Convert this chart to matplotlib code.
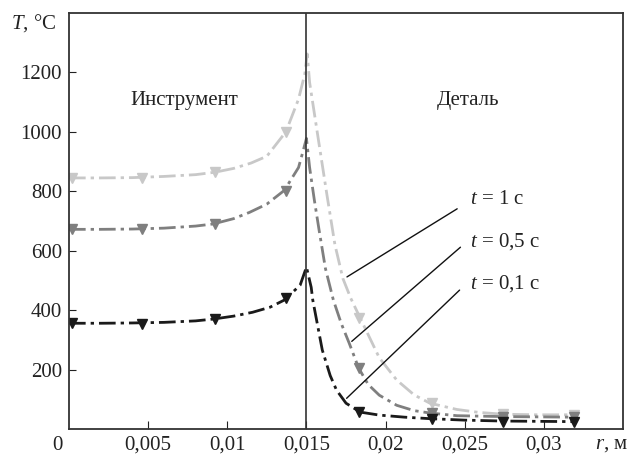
import matplotlib
matplotlib.use("Agg")
import matplotlib.pyplot as plt

plt.rcParams["font.family"] = ["Liberation Serif", "DejaVu Serif"]
plt.rcParams["mathtext.fontset"] = "custom"
plt.rcParams["mathtext.rm"] = "Liberation Serif"
plt.rcParams["mathtext.it"] = "Liberation Serif:italic"

# curves: r in m, T in deg C
r_1 = [0, 0.002, 0.004, 0.006, 0.008, 0.0092, 0.0104, 0.0115, 0.0125, 0.0137, 0.0145, 0.0149, 0.01505,
       0.0152, 0.0158, 0.0163, 0.0168, 0.0173, 0.0178, 0.0184, 0.0196, 0.0207, 0.0218, 0.0228, 0.0245,
       0.0259, 0.0274, 0.0295, 0.0319]
T_1 = [845, 845, 846, 850, 856, 864, 877, 895, 918, 1000, 1110, 1196, 1262,
       1166, 958, 786, 620, 507, 440, 373, 240, 165, 115, 87, 66, 56, 50, 48, 48]

r_05 = [0, 0.002, 0.004, 0.006, 0.008, 0.0091, 0.0104, 0.0114, 0.0125, 0.0136, 0.0145, 0.0148, 0.0150,
        0.0152, 0.0155, 0.0158, 0.0162, 0.0167, 0.0172, 0.0177, 0.0183, 0.0189, 0.0196, 0.0207, 0.0218,
        0.0228, 0.0245, 0.0274, 0.0319]
T_05 = [672, 672, 673, 676, 683, 690, 708, 729, 757, 803, 880, 938, 978,
        880, 770, 669, 540, 434, 355, 289, 205, 150, 114, 80, 62, 54, 45, 42, 40]

r_01 = [0, 0.002, 0.004, 0.006, 0.008, 0.0091, 0.0104, 0.0116, 0.0127, 0.0136, 0.0146, 0.0150,
        0.0153, 0.0154, 0.0157, 0.0160, 0.0165, 0.0169, 0.0175, 0.0184, 0.0196, 0.0212, 0.0228,
        0.0250, 0.0274, 0.0319]
T_01 = [356, 356, 357, 359, 364, 370, 380, 393, 410, 434, 484, 545,
        477, 434, 350, 266, 180, 131, 87, 57, 47, 40, 35, 30, 27, 25]

# marker positions
r_marks = [0.0002, 0.0046, 0.0092, 0.0137, 0.0183, 0.0229, 0.0274, 0.0319]
T_marks_1 = [845, 845, 864, 1000, 373, 87, 50, 48]
T_marks_05 = [672, 673, 690, 800, 205, 54, 42, 40]
T_marks_01 = [356, 353, 370, 440, 57, 33, 25, 25]

labels = ["$t$ = 1 с", "$t$ = 0,5 с", "$t$ = 0,1 с"]
colors = ["#c8c8c8", "#7f7f7f", "#1a1a1a"]
x_ticks = [0.005, 0.01, 0.015, 0.02, 0.025, 0.03]
x_tick_labels = ["0,005", "0,01", "0,015", "0,02", "0,025", "0,03"]
y_ticks = [200, 400, 600, 800, 1000, 1200]

fs = 15
txt = "#222222"

fig = plt.figure(figsize=(6.3, 4.55), dpi=100)
ax = fig.add_axes([0.1095, 0.057, 0.8795, 0.9145])

series = [(r_1, T_1, T_marks_1), (r_05, T_05, T_marks_05), (r_01, T_01, T_marks_01)]
for (r, T, Tm), c in zip(series, colors):
    ax.plot(r, T, color=c, lw=2.0, dashes=(6, 1.8, 1.2, 1.8))
    ax.plot(r_marks, Tm, ls="none", marker="v", ms=7.5, color=c)

ax.axvline(0.015, color="#333333", lw=1.2)

ax.set_xlim(0, 0.035)
ax.set_ylim(0, 1400)
ax.set_xticks(x_ticks)
ax.set_xticklabels(x_tick_labels)
ax.set_yticks(y_ticks)
ax.tick_params(direction="in", labelsize=fs, colors=txt)
ax.tick_params(axis="x", length=6, pad=5)
ax.tick_params(axis="y", length=5, pad=5)
for s in ax.spines.values():
    s.set_color("#333333")
    s.set_linewidth(1.3)

fig.text(57 / 630, 1 - 445 / 455, "0", ha="center", va="center", fontsize=fs, color=txt)
fig.text(628 / 630, 1 - 445 / 455, "$r$, м", ha="right", va="center", fontsize=fs, color=txt)
fig.text(56 / 630, 1 - 23 / 455, "$T$, °C", ha="right", va="center", fontsize=fs, color=txt)

ax.text(0.00726, 1105, "Инструмент", ha="center", va="center", fontsize=fs, color=txt)
ax.text(0.0252, 1105, "Деталь", ha="center", va="center", fontsize=fs, color=txt)

# leader lines from labels to curves
tips = [(0.01741, 507), (0.01773, 289), (0.01741, 97)]
ends = [(0.02467, 746), (0.02486, 618), (0.0248, 474)]
text_y = [773, 632, 491]
for lab, tip, end, ty in zip(labels, tips, ends, text_y):
    ax.annotate("", xy=tip, xytext=end, arrowprops=dict(arrowstyle="-", color="#111111", lw=1.0))
    ax.text(0.0253, ty, lab, ha="left", va="center", fontsize=fs, color=txt)

fig.savefig("out.png", dpi=100)
